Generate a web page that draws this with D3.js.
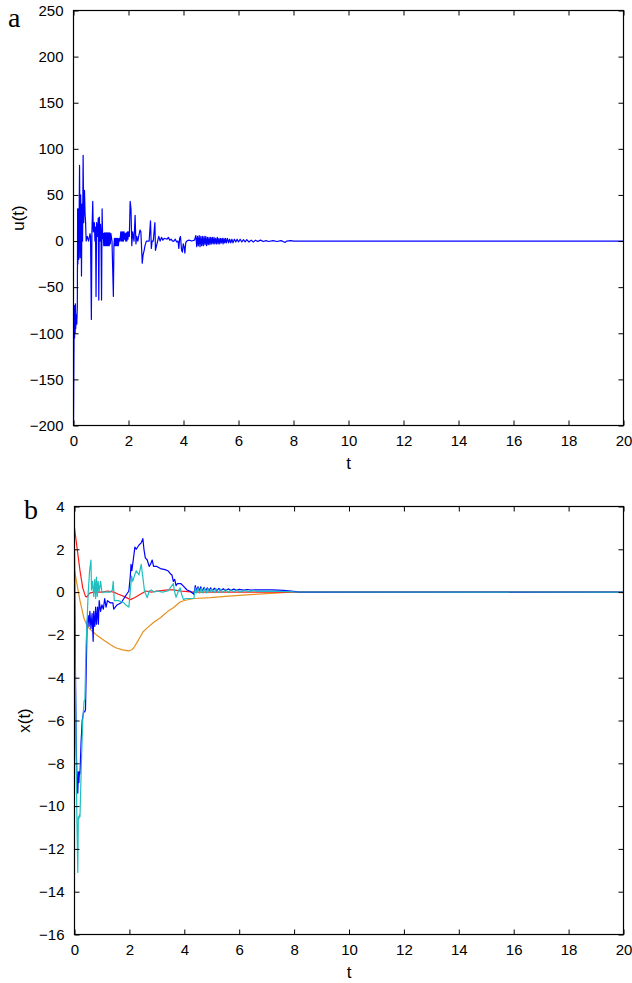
<!DOCTYPE html>
<html><head><meta charset="utf-8">
<script src="https://cdn.jsdelivr.net/npm/d3@7"></script>
<style>body{margin:0;background:#fff}svg{display:block}</style>
</head><body>
<script>
// ---------- DATA ----------
const xTicks = [0,2,4,6,8,10,12,14,16,18,20];
const uTicks = [-200,-150,-100,-50,0,50,100,150,200,250];
const xStateTicks = [-16,-14,-12,-10,-8,-6,-4,-2,0,2,4];

// u(t): [t, u]
const uData = [[0,-200],[0.01,-150],[0.02,-100],[0.03,-70],[0.04,-105],[0.05,-75],[0.06,-100],[0.07,-68],[0.08,-95],[0.1,-80],[0.12,-90],[0.14,-70],
[0.15,35],[0.16,-25],[0.17,35],[0.19,-20],[0.2,10],[0.22,82],[0.24,-18],[0.26,50],[0.28,20],[0.29,-38],[0.31,40],[0.33,0],[0.35,93],[0.37,20],[0.4,55],[0.42,30],[0.44,20],[0.46,0],[0.5,5],[0.55,0],[0.6,8],[0.62,5],[0.65,-85],[0.67,10],[0.7,43],[0.72,10],[0.76,20],[0.78,0],[0.8,15],[0.82,-60],[0.84,20],[0.87,5],[0.9,25],[0.92,-64],[0.94,26],[0.96,0],[0.98,18],[1.0,8],[1.02,-64],[1.04,35],[1.06,3],[1.08,8],
[1.1,-5],[1.12,9],[1.14,-5],[1.16,9],[1.18,-5],[1.2,9],[1.22,-5],[1.24,9],[1.26,-5],[1.28,9],[1.3,-5],[1.32,9],[1.34,-3],[1.36,8],[1.4,0],[1.45,-60],
[1.47,-5],[1.49,3],[1.51,-5],[1.53,3],[1.55,-5],[1.57,3],[1.59,-5],[1.61,3],[1.63,-5],[1.66,3],[1.69,0],[1.72,10],[1.74,0],[1.76,10],[1.78,0],[1.8,10],[1.82,0],[1.84,10],[1.86,2],[1.88,8],[1.9,0],[1.92,9],[1.94,0],[1.96,10],[1.98,2],[2.0,10],[2.03,5],
[2.06,43],[2.09,35],[2.12,-5],[2.15,10],[2.2,0],[2.24,28],[2.27,-3],[2.3,5],[2.34,0],[2.37,5],[2.42,12],[2.45,10],[2.5,-24],[2.53,-15],[2.57,-10],[2.6,-5],[2.65,0],[2.7,0],[2.75,0],
[2.8,22],[2.83,-8],[2.86,0],[2.9,0],[2.96,20],[2.98,-10],[3.02,-5],[3.06,0],[3.1,5],[3.15,0],[3.2,4],[3.25,1],[3.3,3],[3.4,2],[3.45,4],[3.5,1],[3.55,2],[3.6,0],
[3.65,0],[3.7,2],[3.75,-1],[3.8,0],[3.83,-8],[3.86,3],[3.89,5],[3.93,-10],[3.96,-12],[3.99,-3],[4.02,-6],[4.05,-13],[4.08,-2],[4.12,0],[4.2,1],[4.3,0],[4.4,1],
[4.45,6],[4.48,-6],[4.51,5],[4.54,-5],[4.57,6],[4.6,-6],[4.63,5],[4.66,-5],[4.69,5],[4.72,-5],[4.75,5],[4.78,-4],[4.81,5],[4.84,-5],[4.87,4],[4.9,-4],[4.93,4],[4.96,-4],[4.99,4],[5.02,-3],[5.05,4],[5.08,-3],[5.11,4],[5.14,-3],[5.17,3],[5.2,-3],[5.23,4],[5.26,-3],[5.29,3],[5.32,-3],[5.35,3],[5.38,-2],[5.41,3],[5.44,-3],[5.47,3],[5.5,-2],[5.53,3],[5.56,-2],[5.6,3],[5.64,-2],[5.68,2],[5.72,-2],[5.76,2],[5.8,-2],[5.85,2],[5.9,-1],[5.95,2],[6.0,-1],[6.06,2],[6.12,-1],[6.18,1.5],[6.24,-1],[6.3,1.5],[6.38,-1],[6.46,1],[6.54,-1],[6.62,1],[6.7,-0.5],[6.8,1],[6.9,-0.5],[7.0,0.5],[7.1,-0.5],[7.25,0.5],[7.4,-0.5],[7.55,0.5],[7.7,-1.5],[7.75,0],[7.9,0.5],[8.0,0],[20,0]];

// x(t) states: [t, value]
const x1Data = [[0,2],[0.03,-3],[0.06,-7],[0.1,-9.3],[0.12,-9.4],[0.14,-8.4],[0.16,-8.9],[0.18,-8.4],[0.2,-8.5],[0.24,-7],[0.28,-6],[0.33,-5.6],[0.37,-5.6],[0.4,-5.5],[0.46,-1.4],
[0.5,-1.1],[0.53,-1.6],[0.56,-0.9],[0.6,-1.7],[0.64,-1.0],[0.68,-2.3],[0.7,-0.9],[0.74,-1.6],[0.77,-0.7],[0.8,-1.5],[0.84,-0.7],[0.87,-1.5],[0.9,-0.4],[0.95,-0.9],[1.0,-0.6],[1.05,-0.8],[1.1,-0.3],[1.15,-0.7],[1.2,-0.4],[1.3,-0.5],[1.4,-0.5],[1.43,-0.8],[1.55,-0.6],[1.7,-0.5],[1.8,-0.3],[1.9,-0.1],[1.98,0.05],
[2.03,0.7],[2.06,1.3],[2.09,1.0],[2.15,1.6],[2.2,2.1],[2.25,2.0],[2.35,2.2],[2.43,2.3],[2.49,2.5],[2.53,2.0],[2.58,1.6],[2.65,1.5],[2.72,1.2],[2.77,1.3],[2.83,1.5],[2.88,1.2],[3.0,1.2],[3.13,1.1],[3.3,1.05],[3.4,1.0],[3.5,0.85],[3.55,0.8],[3.6,0.5],[3.65,0.6],[3.7,0.3],[3.75,0.4],[3.87,0.4],[3.95,0.3],[4.1,0.1],[4.2,0.05],[4.35,-0.1],[4.4,0.3],[4.45,0.05],[4.5,0.25],[4.55,0.05],
[4.6,0.25],[4.66,0.05],[4.72,0.22],[4.78,0.05],[4.84,0.2],[4.9,0.06],[4.96,0.2],[5.02,0.06],[5.1,0.18],[5.18,0.06],[5.26,0.17],[5.34,0.07],[5.42,0.16],[5.5,0.07],[5.6,0.15],[5.7,0.08],[5.8,0.14],[5.9,0.08],[6.0,0.13],[6.15,0.09],[6.3,0.12],[6.45,0.09],[6.6,0.11],[6.8,0.1],[7.2,0.1],[7.6,0.08],[7.9,0.05],[8.2,0],[20,0]];

const x2Data = [[0,-1],[0.04,-5],[0.08,-10],[0.12,-13.1],[0.14,-10.5],[0.16,-10.6],[0.18,-10.4],[0.2,-10.5],[0.25,-8],[0.3,-6],[0.35,-5.1],[0.38,-5.0],[0.42,-2.5],[0.46,-1.3],[0.5,0],[0.55,1.0],[0.6,1.5],[0.62,0.1],[0.66,0.5],[0.7,-0.2],[0.74,0.6],[0.77,-0.3],[0.8,0.7],[0.83,-0.2],[0.86,0.5],[0.9,0],[0.95,0.5],[1.0,0],[1.1,0],[1.2,0],[1.3,0],[1.38,0.1],[1.41,0.5],[1.45,-0.4],[1.6,-0.4],[1.8,-0.5],[1.87,-0.6],[1.98,-0.7],
[2.03,0],[2.08,0.75],[2.12,0.5],[2.2,0.83],[2.25,1.0],[2.35,0.8],[2.43,1.3],[2.49,0.7],[2.55,0.05],[2.65,-0.26],[2.72,0.05],[2.8,0.1],[2.9,0.0],[3.0,0.05],[3.2,0.0],[3.4,0.05],[3.6,0.4],[3.65,0.0],[3.7,-0.24],[3.8,0.1],[3.85,0.2],[3.9,-0.1],[3.97,-0.35],[4.05,-0.3],[4.2,-0.3],[4.35,-0.3],
[4.4,0.2],[4.45,-0.05],[4.5,0.2],[4.56,-0.05],[4.62,0.2],[4.68,-0.05],[4.74,0.18],[4.8,-0.04],[4.86,0.17],[4.92,-0.03],[5.0,0.16],[5.08,-0.03],[5.16,0.15],[5.24,-0.02],[5.32,0.14],[5.4,-0.02],[5.5,0.13],[5.6,-0.01],[5.7,0.12],[5.8,0],[5.9,0.1],[6.05,0.01],[6.2,0.08],[6.35,0.02],[6.5,0.07],[6.7,0.03],[7.0,0.05],[7.5,0.03],[8.0,0.01],[20,0]];

const x3Data = [[0,3.0],[0.1,2.0],[0.2,1.0],[0.3,0.2],[0.4,-0.2],[0.45,-0.23],[0.55,-0.05],[0.7,0],[1.0,0],[1.2,0.05],[1.43,0],[1.6,-0.1],[1.8,-0.2],[2.04,-0.35],[2.2,-0.25],[2.4,-0.1],[2.6,0.05],[2.8,0.0],[3.0,0.05],[3.4,0.1],[3.6,0.1],[3.9,0.05],[4.35,0],[5,0],[20,0]];

const x4Data = [[0,1.0],[0.1,0.3],[0.2,-0.4],[0.34,-1.2],[0.45,-1.55],[0.58,-1.75],[0.8,-2.0],[1.07,-2.25],[1.3,-2.45],[1.5,-2.6],[1.75,-2.7],[1.98,-2.75],[2.1,-2.68],[2.16,-2.6],[2.3,-2.3],[2.5,-1.85],[2.65,-1.67],[2.9,-1.4],[3.13,-1.2],[3.4,-0.9],[3.6,-0.73],[3.86,-0.45],[4.04,-0.38],[4.35,-0.3],[4.95,-0.26],[5.5,-0.2],[6.4,-0.12],[7.0,-0.07],[7.87,0],[20,0]];

const stateSeries = [
  {name:"x4", data:x4Data, color:"#e8901f"},
  {name:"x3", data:x3Data, color:"#ff1a1a"},
  {name:"x1", data:x1Data, color:"#0000ff"},
  {name:"x2", data:x2Data, color:"#1fbfbf"}
];

// ---------- DRAW ----------
const W = 632, H = 983;
const svg = d3.select("body").append("svg").attr("width", W).attr("height", H);
const tickFont = "'Liberation Sans', Arial, Helvetica, sans-serif";

function panel(opts){
  const {x0,x1,y0,y1,ydom,yticks,ylabel,series,letter,lx,ly,ylabelX,id} = opts;
  const xs = d3.scaleLinear().domain([0,20]).range([x0,x1]);
  const ys = d3.scaleLinear().domain(ydom).range([y1,y0]);
  const g = svg.append("g");
  g.append("clipPath").attr("id",id).append("rect")
    .attr("x",x0).attr("y",y0).attr("width",x1-x0).attr("height",y1-y0);
  const line = d3.line().x(d=>xs(d[0])).y(d=>ys(d[1]));
  const lg = g.append("g").attr("clip-path",`url(#${id})`);
  series.forEach(s=>{
    lg.append("path").attr("d",line(s.data)).attr("fill","none")
      .attr("stroke",s.color).attr("stroke-width",1.2).attr("stroke-linejoin","round");
  });
  const styleAxis = (a)=>{
    a.select(".domain").remove();
    a.selectAll(".tick line").attr("stroke","#000");
    a.selectAll("text").attr("font-family",tickFont).attr("font-size",15).attr("fill","#000");
  };
  g.append("g").attr("transform",`translate(0,${y1})`)
    .call(d3.axisBottom(xs).tickValues(xTicks).tickFormat(d3.format("d")).tickSizeInner(-5).tickSizeOuter(0).tickPadding(10))
    .call(styleAxis);
  g.append("g").attr("transform",`translate(0,${y0})`)
    .call(d3.axisTop(xs).tickValues(xTicks).tickFormat("").tickSizeInner(-5).tickSizeOuter(0))
    .call(styleAxis);
  g.append("g").attr("transform",`translate(${x0},0)`)
    .call(d3.axisLeft(ys).tickValues(yticks).tickFormat(d3.format("d")).tickSizeInner(-5).tickSizeOuter(0).tickPadding(10))
    .call(styleAxis);
  g.append("g").attr("transform",`translate(${x1},0)`)
    .call(d3.axisRight(ys).tickValues(yticks).tickFormat("").tickSizeInner(-5).tickSizeOuter(0))
    .call(styleAxis);
  g.append("rect").attr("x",x0).attr("y",y0).attr("width",x1-x0).attr("height",y1-y0)
    .attr("fill","none").attr("stroke","#000").attr("stroke-width",1.2);
  g.append("text").attr("x",(x0+x1)/2).attr("y",y1+43).attr("text-anchor","middle")
    .attr("font-family",tickFont).attr("font-size",17).text("t");
  g.append("text").attr("transform",`translate(${ylabelX},${(y0+y1)/2}) rotate(-90)`)
    .attr("text-anchor","middle").attr("font-family",tickFont).attr("font-size",17).text(ylabel);
  g.append("text").attr("x",lx).attr("y",ly).attr("font-family","'Liberation Serif','Times New Roman',serif")
    .attr("font-size",28).text(letter);
}

panel({x0:73.5,x1:623.5,y0:10.5,y1:425.5,ydom:[-200,250],yticks:uTicks,ylabel:"u(t)",
  series:[{name:"u",data:uData,color:"#0000ff"}],letter:"a",lx:8,ly:27,ylabelX:24,id:"clipA"});
panel({x0:74.5,x1:623.5,y0:506.5,y1:934.5,ydom:[-16,4],yticks:xStateTicks,ylabel:"x(t)",
  series:stateSeries,letter:"b",lx:24,ly:519,ylabelX:30,id:"clipB"});
</script>
</body></html>
